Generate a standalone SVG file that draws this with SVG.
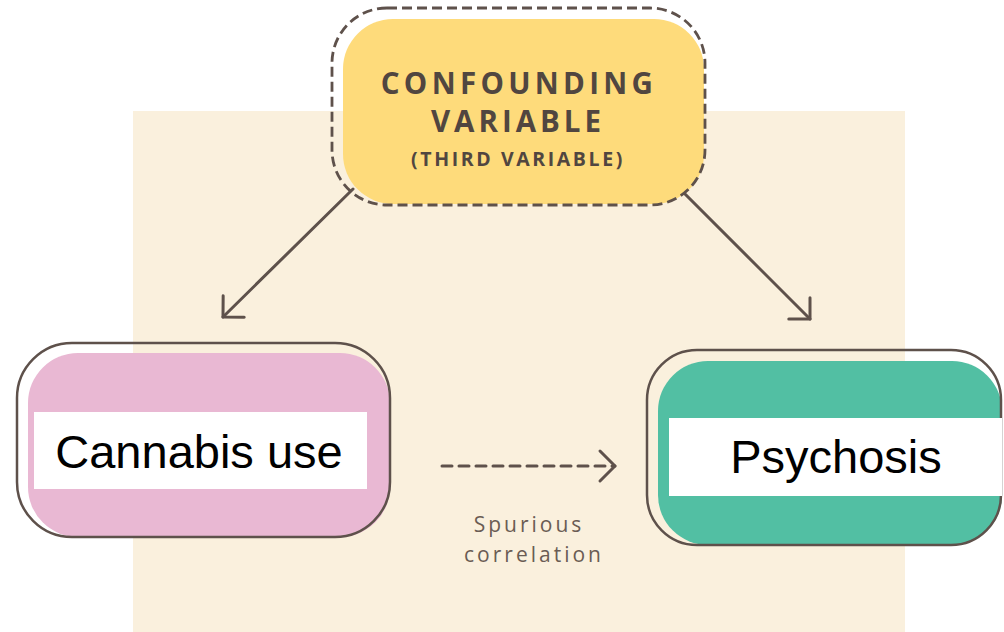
<svg xmlns="http://www.w3.org/2000/svg" width="1004" height="632" viewBox="0 0 1004 632">
  <defs>
    <style>
      .frame { fill: none; stroke: #5E514B; stroke-width: 2.5; }
      .dashed { stroke-dasharray: 10 5; stroke-width: 2.8; }
      .link { fill: none; stroke: #5E514B; stroke-width: 3; stroke-linecap: round; }
      .title { font-family: "Open Sans", "DejaVu Sans", sans-serif; font-weight: 700; fill: #514640; text-anchor: middle; }
      .label { font-family: "Liberation Sans", Arial, sans-serif; font-size: 47px; fill: #000000; text-anchor: middle; }
      .note { font-family: "Open Sans", "DejaVu Sans", sans-serif; font-size: 21px; letter-spacing: 3px; fill: #6A5C54; text-anchor: middle; }
    </style>
    <marker id="chevron" markerUnits="userSpaceOnUse" markerWidth="40" markerHeight="40" refX="0" refY="0" orient="auto" overflow="visible">
      <path d="M -15 -15 L 0 0 L -15 15" fill="none" stroke="#5E514B" stroke-width="3" stroke-linecap="round" stroke-linejoin="round"/>
    </marker>
  </defs>

  <!-- backdrop -->
  <rect x="0" y="0" width="1004" height="632" fill="#FFFFFF"/>
  <rect x="133" y="111" width="772" height="521" fill="#FAF0DD"/>

  <!-- connectors -->
  <g id="connectors">
    <line class="link" x1="353" y1="189" x2="223" y2="317" marker-end="url(#chevron)"/>
    <line class="link" x1="681" y1="190" x2="810" y2="319" marker-end="url(#chevron)"/>
    <line class="link" x1="442" y1="466" x2="615" y2="466" stroke-dasharray="10 7" stroke-linecap="butt" marker-end="url(#chevron)"/>
    <text class="note" x="529" y="532">Spurious</text>
    <text class="note" x="534" y="562">correlation</text>
  </g>

  <!-- confounding variable -->
  <g id="confounder">
    <rect x="343" y="19" width="361" height="185" rx="50" fill="#FEDB7B"/>
    <rect class="frame dashed" x="332" y="8" width="373" height="197" rx="55"/>
    <text class="title" x="519" y="94" font-size="29.5" letter-spacing="4.3">CONFOUNDING</text>
    <text class="title" x="518" y="132" font-size="29.5" letter-spacing="4">VARIABLE</text>
    <text class="title" x="518" y="166" font-size="19.5" letter-spacing="2.6">(THIRD VARIABLE)</text>
  </g>

  <!-- cannabis use -->
  <g id="cannabis">
    <rect x="28" y="353" width="362" height="184" rx="50" fill="#E9B8D3"/>
    <rect class="frame" x="17" y="343" width="373" height="194" rx="55"/>
    <rect x="34" y="412" width="333" height="77" fill="#FFFFFF"/>
    <text class="label" x="199" y="468">Cannabis use</text>
  </g>

  <!-- psychosis -->
  <g id="psychosis">
    <rect x="658" y="361" width="344" height="184" rx="50" fill="#52BFA3"/>
    <rect class="frame" x="647" y="350" width="354" height="195" rx="50"/>
    <rect x="669" y="418" width="333" height="78" fill="#FFFFFF"/>
    <text class="label" x="836" y="473">Psychosis</text>
  </g>
</svg>
